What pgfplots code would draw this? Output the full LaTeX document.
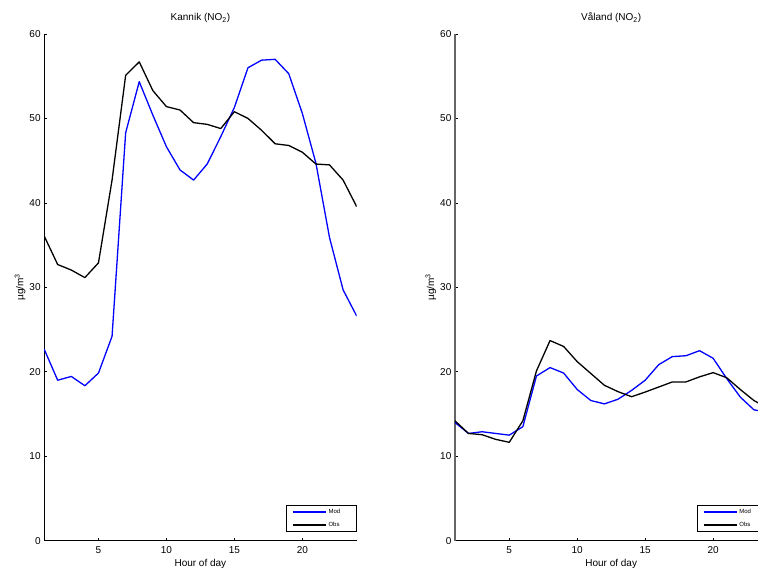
\documentclass[border=0pt]{standalone}
\usepackage{fontspec}
\setmainfont{Liberation Sans}
\usepackage{pgfplots}
\pgfplotsset{compat=1.18}

\definecolor{modblue}{RGB}{0,0,255}

\pgfplotsset{
    matlab axis/.style={
        scale only axis,
        width=312.6pt,
        height=506.7pt,
        xmin=1, xmax=24,
        ymin=0, ymax=60,
        xtick={5,10,15,20},
        ytick={0,10,...,60},
        axis x line*=bottom,
        axis y line*=left,
        axis line style={-, line width=0.7pt, black},
        tick align=inside,
        major tick length=3pt,
        tick style={line width=0.6pt, black},
        font=\fontsize{10}{12}\selectfont,
        /pgf/number format/assume math mode=true,
        xticklabel style={anchor=base, yshift=-12.6pt},
        xlabel style={at={(axis description cs:0.5,0)}, anchor=base, yshift=-25.5pt},
        ylabel style={at={(axis description cs:-0.077,0.5)}, anchor=center, rotate=0},
        title style={at={(axis description cs:0.5,1)}, anchor=base, yshift=7pt},
        xlabel={Hour of day},
        ylabel={µg/m\textsuperscript{3}},
        legend style={at={(rel axis cs:1,0.0166)}, anchor=south east,
            draw=black, line width=0.9pt,
            font=\fontsize{6}{7}\selectfont,
            inner xsep=5.7pt, inner ysep=1.8pt,
            row sep=3.1pt},
        legend cell align=left,
        legend image code/.code={\draw[#1, line width=1.5pt] (0pt,0pt) -- (33pt,0pt);},
        every axis plot/.append style={line width=1.3pt, line join=round, no markers},
    },
}

\begin{document}
\begin{tikzpicture}
\begin{axis}[matlab axis, at={(44.1pt,28.3pt)}, anchor=south west,
    title={Kannik (NO\textsubscript{2})}]
\addplot[modblue] coordinates {
    (1,22.7) (2,19.0) (3,19.45) (4,18.35) (5,19.85) (6,24.2) (7,48.3) (8,54.35)
    (9,50.4) (10,46.65) (11,43.9) (12,42.7) (13,44.6) (14,47.85) (15,51.3) (16,56.0)
    (17,56.9) (18,57.0) (19,55.3) (20,50.6) (21,44.7) (22,35.9) (23,29.7) (24,26.6)
};
\addlegendentry{\makebox[20pt][l]{Mod}}
\addplot[black] coordinates {
    (1,36.1) (2,32.7) (3,32.05) (4,31.15) (5,32.9) (6,42.7) (7,55.1) (8,56.7)
    (9,53.3) (10,51.4) (11,51.0) (12,49.5) (13,49.3) (14,48.8) (15,50.8) (16,50.0)
    (17,48.6) (18,47.0) (19,46.8) (20,46.0) (21,44.6) (22,44.5) (23,42.7) (24,39.55)
};
\addlegendentry{\makebox[20pt][l]{Obs}}
\end{axis}

\begin{axis}[matlab axis, at={(454.9pt,28.3pt)}, anchor=south west,
    y axis line style={gray!80!black, line width=1.2pt},
    title={Våland (NO\textsubscript{2})}]
\addplot[modblue] coordinates {
    (1,14.0) (2,12.7) (3,12.9) (4,12.7) (5,12.5) (6,13.5) (7,19.5) (8,20.5)
    (9,19.85) (10,17.9) (11,16.6) (12,16.2) (13,16.75) (14,17.8) (15,19.0) (16,20.85)
    (17,21.8) (18,21.9) (19,22.5) (20,21.6) (21,19.2) (22,17.0) (23,15.5) (24,15.2)
};
\addlegendentry{\makebox[20pt][l]{Mod}}
\addplot[black] coordinates {
    (1,14.2) (2,12.7) (3,12.55) (4,12.0) (5,11.65) (6,14.2) (7,20.1) (8,23.7)
    (9,23.0) (10,21.2) (11,19.8) (12,18.4) (13,17.65) (14,17.05) (15,17.6) (16,18.2)
    (17,18.8) (18,18.8) (19,19.4) (20,19.9) (21,19.3) (22,17.9) (23,16.6) (24,15.7)
};
\addlegendentry{\makebox[20pt][l]{Obs}}
\end{axis}

\pgfresetboundingbox
\useasboundingbox (0pt,0pt) rectangle (758pt,569pt);
\end{tikzpicture}
\end{document}
